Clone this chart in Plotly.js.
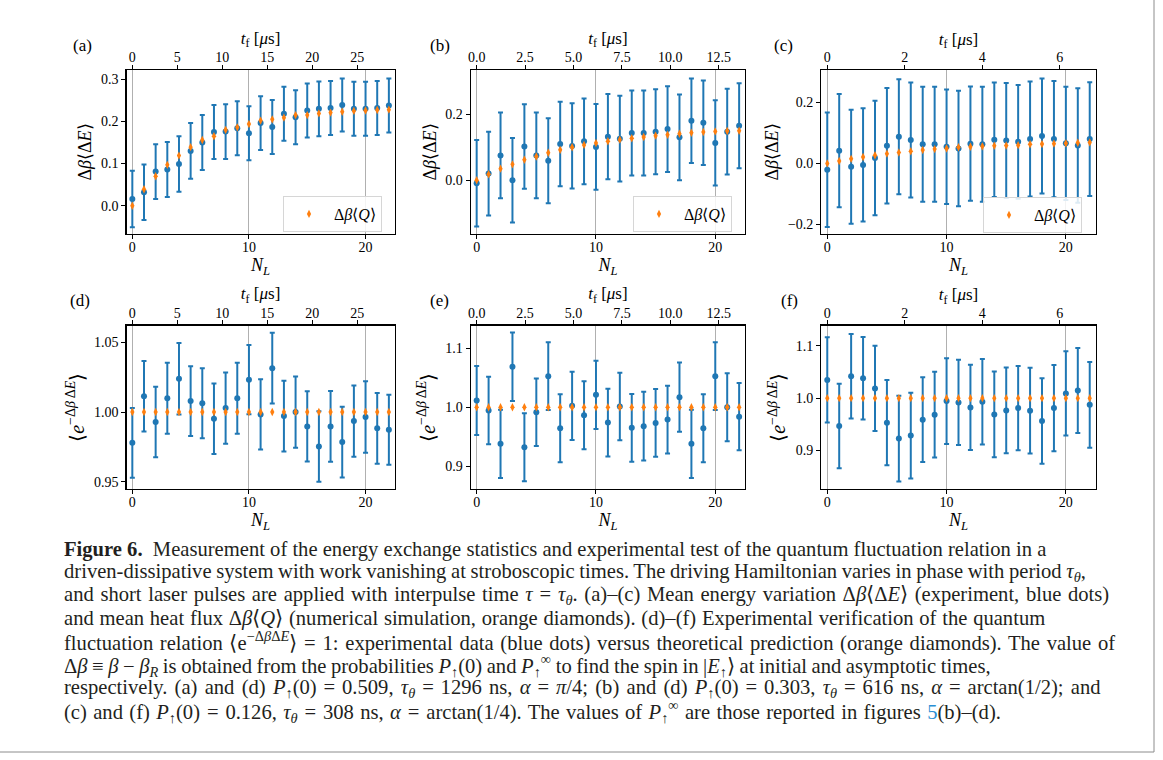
<!DOCTYPE html>
<html>
<head>
<meta charset="utf-8">
<script src="https://cdn.plot.ly/plotly-3.0.1.min.js"></script>
<style>
html,body{margin:0;padding:0;background:#fff;}
#chart{width:1163px;height:760px;}
</style>
</head>
<body>
<div id="chart"></div>
<script>
// ---------------- data ----------------
const NL = [0,1,2,3,4,5,6,7,8,9,10,11,12,13,14,15,16,17,18,19,20,21,22];

// (a) P(0)=0.509, tau=1296 ns
const blueA = [0.016,0.032,0.081,0.086,0.099,0.130,0.150,0.175,0.176,0.184,0.172,0.196,0.187,0.218,0.210,0.226,0.230,0.232,0.239,0.230,0.230,0.232,0.238];
const errA  = [0.067,0.066,0.065,0.065,0.066,0.066,0.065,0.064,0.065,0.064,0.064,0.064,0.064,0.064,0.064,0.064,0.065,0.064,0.063,0.064,0.064,0.064,0.064];
const heatA = [0.000,0.039,0.070,0.097,0.119,0.139,0.156,0.165,0.180,0.186,0.194,0.202,0.205,0.209,0.215,0.215,0.219,0.221,0.223,0.225,0.226,0.227,0.228];

// (b) P(0)=0.303, tau=616 ns
const blueB = [-0.009,0.020,0.075,0.000,0.102,0.075,0.059,0.110,0.104,0.118,0.101,0.132,0.126,0.143,0.143,0.147,0.155,0.130,0.180,0.174,0.113,0.147,0.165];
const errB  = [0.131,0.127,0.130,0.128,0.128,0.130,0.129,0.128,0.129,0.130,0.130,0.129,0.130,0.129,0.129,0.129,0.130,0.130,0.128,0.128,0.129,0.130,0.129];
const heatB = [0.000,0.018,0.035,0.048,0.062,0.072,0.083,0.092,0.100,0.107,0.113,0.118,0.123,0.127,0.131,0.135,0.138,0.141,0.144,0.146,0.148,0.149,0.150];

// (c) P(0)=0.126, tau=308 ns
const blueC = [-0.021,0.042,-0.011,-0.005,0.018,0.058,0.088,0.077,0.063,0.063,0.055,0.049,0.065,0.063,0.078,0.075,0.071,0.080,0.090,0.080,0.066,0.059,0.080];
const errC  = [0.188,0.186,0.187,0.186,0.188,0.190,0.189,0.189,0.189,0.189,0.188,0.190,0.188,0.189,0.188,0.189,0.187,0.189,0.189,0.191,0.186,0.188,0.187];
const heatC = [0.000,0.008,0.015,0.021,0.027,0.032,0.036,0.040,0.044,0.047,0.049,0.053,0.055,0.056,0.058,0.059,0.060,0.063,0.064,0.065,0.066,0.068,0.069];

// (d)-(f) fluctuation relation
const blueD = [0.9779,1.0113,0.9928,1.0099,1.0240,1.0079,1.0063,0.9952,1.0029,1.0099,1.0233,0.9983,1.0315,0.9971,1.0000,0.9897,0.9752,0.9897,0.9784,0.9935,0.9964,0.9883,0.9873];
const errD  = [0.0251,0.0253,0.0253,0.0255,0.0257,0.0251,0.0251,0.0254,0.0256,0.0255,0.0249,0.0253,0.0254,0.0254,0.0256,0.0253,0.0253,0.0255,0.0254,0.0256,0.0257,0.0254,0.0252];
const blueE = [1.0113,0.9944,0.9379,1.0684,0.9322,0.9915,1.0525,0.9644,1.0023,0.9864,1.0209,0.9740,1.0011,0.9650,0.9678,0.9734,0.9790,1.0170,0.9379,0.9644,1.0525,1.0000,0.9840];
const errE  = [0.0585,0.0570,0.0576,0.0579,0.0574,0.0571,0.0574,0.0576,0.0577,0.0576,0.0577,0.0573,0.0570,0.0574,0.0582,0.0573,0.0573,0.0585,0.0578,0.0575,0.0573,0.0576,0.0570];
const blueF = [1.0348,0.9468,1.0418,1.0380,1.0184,0.9532,0.9228,0.9285,0.9589,0.9684,0.9943,0.9918,0.9823,0.9930,0.9690,0.9766,0.9810,0.9760,0.9563,0.9810,1.0089,1.0146,0.9873];
const errF  = [0.0813,0.0804,0.0807,0.0788,0.0813,0.0813,0.0817,0.0817,0.0807,0.0817,0.0816,0.0814,0.0814,0.0815,0.0817,0.0817,0.0803,0.0817,0.0814,0.0824,0.0803,0.0810,0.0817];
const theoryDEF = [1,1,1,1,1,1,1,1,1,1,1,1,1,1,1,1,1,1,1,1,1,1,1];

// pulse periods (microseconds) for the top t_f axes
const tauA = 1.296, tauB = 0.616, tauC = 0.308;

// tick labels
const bottomTicks = [0,10,20];
const topTicksA = [0,5,10,15,20,25];
const topTicksB = [0,2.5,5,7.5,10,12.5];
const topTicksC = [0,2,4,6];
const yTicksA = [0,0.1,0.2,0.3];
const yTicksB = [0,0.2];
const yTicksC = [-0.2,0,0.2];
const yTicksD = [0.95,1.00,1.05];
const yTicksE = [0.9,1.0,1.1];
const yTicksF = [0.9,1.0,1.1];
const panelLabels = ['(a)','(b)','(c)','(d)','(e)','(f)'];

// ---------------- styling ----------------
const W = 1163, H = 760;
const FONT = 'Liberation Serif, Times New Roman, serif';
const BLUE = '#1f77b4', ORANGE = '#ff7f0e';
const px = v => v / W;
const py = v => 1 - v / H;

const colDom = [[126.5,394.7],[470.7,745.1],[821.3,1095.7]];
const rowDom = [[70,234],[325.5,489]];
const xr = [-0.5, 22.5];

const YT1 = 'Δ<i>β</i>⟨Δ<i>E</i>⟩';
const YT2 = '⟨<i>e</i><sup>−Δ<i>β</i> Δ<i>E</i></sup>⟩';
const panels = [
  {blue: blueA, err: errA, orange: heatA, yr:[-0.067,0.322], yt: yTicksA, yf:'.1f', tau: tauA, tt: topTicksA, tf:'d', ytitle: YT1, ys: 18, leg:'legend'},
  {blue: blueB, err: errB, orange: heatB, yr:[-0.163,0.334], yt: yTicksB, yf:'.1f', tau: tauB, tt: topTicksB, tf:'.1f', ytitle: YT1, ys: 18, leg:'legend2'},
  {blue: blueC, err: errC, orange: heatC, yr:[-0.232,0.307], yt: yTicksC, yf:'.1f', tau: tauC, tt: topTicksC, tf:'d', ytitle: YT1, ys: 18, leg:'legend3'},
  {blue: blueD, err: errD, orange: theoryDEF, yr:[0.9447,1.0622], yt: yTicksD, yf:'.2f', tau: tauA, tt: topTicksA, tf:'d', ytitle: YT2, ys: 20, leg:null},
  {blue: blueE, err: errE, orange: theoryDEF, yr:[0.8615,1.1383], yt: yTicksE, yf:'.1f', tau: tauB, tt: topTicksB, tf:'.1f', ytitle: YT2, ys: 20, leg:null},
  {blue: blueF, err: errF, orange: theoryDEF, yr:[0.8267,1.1385], yt: yTicksF, yf:'.1f', tau: tauC, tt: topTicksC, tf:'d', ytitle: YT2, ys: 20, leg:null}
];

const traces = [];
const layout = {
  width: W, height: H,
  margin: {l:0, r:0, t:0, b:0},
  paper_bgcolor: '#ffffff',
  plot_bgcolor: '#ffffff',
  font: {family: FONT, size: 14, color: '#000'},
  annotations: [],
  shapes: []
};

const axName = (p, n) => n === 1 ? p + 'axis' : p + 'axis' + n;
const axId = (p, n) => n === 1 ? p : p + n;

panels.forEach((P, i) => {
  const col = i % 3, row = Math.floor(i / 3);
  const xb = 2 * i + 1, xt = 2 * i + 2, yn = i + 1;
  const dx = [px(colDom[col][0]), px(colDom[col][1])];
  const dy = [py(rowDom[row][1]), py(rowDom[row][0])];

  layout[axName('x', xb)] = {
    domain: dx, anchor: axId('y', yn), range: xr, side: 'bottom',
    tickmode: 'array', tickvals: bottomTicks, ticks: 'outside', ticklen: 4, tickwidth: 1, tickcolor: '#000',
    ticklabelstandoff: -4,
    showline: true, linecolor: '#000', linewidth: 1.2, mirror: true,
    showgrid: true, gridcolor: '#b0b0b0', gridwidth: 1, zeroline: false,
    tickfont: {family: FONT, size: 14},
    title: {text: '<i>N</i><sub><i>L</i></sub>', font: {family: FONT, size: 18}, standoff: 0}
  };
  layout[axName('x', xt)] = {
    overlaying: axId('x', xb), anchor: axId('y', yn), side: 'top',
    range: [xr[0] * P.tau, xr[1] * P.tau],
    tickmode: 'array', tickvals: P.tt, tickformat: P.tf, ticks: 'outside', ticklen: 4, tickwidth: 1, tickcolor: '#000',
    ticklabelstandoff: -3,
    showline: true, linecolor: '#000', linewidth: 1.2, showgrid: false, zeroline: false,
    tickfont: {family: FONT, size: 14},
    title: {text: '<i>t</i><sub>f</sub> [<i>μ</i>s]', font: {family: FONT, size: 17}, standoff: 0}
  };
  layout[axName('y', yn)] = {
    domain: dy, anchor: axId('x', xb), range: P.yr,
    tickmode: 'array', tickvals: P.yt, tickformat: P.yf, ticks: 'outside', ticklen: 4, tickwidth: 1, tickcolor: '#000',
    showline: true, linecolor: '#000', linewidth: 1.2, mirror: true,
    showgrid: false, zeroline: false,
    tickfont: {family: FONT, size: 14},
    title: {text: P.ytitle, font: {family: FONT, size: P.ys}, standoff: 4}
  };

  traces.push({
    type: 'scatter', mode: 'markers', x: NL, y: P.blue,
    xaxis: axId('x', xb), yaxis: axId('y', yn),
    marker: {color: BLUE, size: 6},
    error_y: {type: 'data', array: P.err, visible: true, color: BLUE, thickness: 2, width: 2.5},
    showlegend: false, hoverinfo: 'skip'
  });
  const ot = {
    type: 'scatter', mode: 'markers', x: NL, y: P.orange,
    xaxis: axId('x', xb), yaxis: axId('y', yn),
    marker: {color: ORANGE, size: 6, symbol: 'diamond-tall'},
    name: 'Δ<i>β</i>⟨<i>Q</i>⟩',
    showlegend: !!P.leg, hoverinfo: 'skip'
  };
  if (P.leg) ot.legend = P.leg;
  traces.push(ot);
  // trace on the top time axis (keeps it drawn)
  traces.push({type: 'scatter', mode: 'markers', x: [], y: [], xaxis: axId('x', xt), yaxis: axId('y', yn), showlegend: false, hoverinfo: 'skip'});
});

// legends (one per top panel)
const legBase = {xanchor: 'left', yanchor: 'top', bgcolor: 'rgba(255,255,255,0.85)', bordercolor: '#d6d6d6', borderwidth: 1,
                 font: {family: FONT, size: 16}, itemwidth: 40, tracegroupgap: 0};
layout.legend  = Object.assign({}, legBase, {x: px(283), y: py(196)});
layout.legend2 = Object.assign({}, legBase, {x: px(633), y: py(196)});
layout.legend3 = Object.assign({}, legBase, {x: px(983), y: py(197)});

// panel labels
const labelPos = [[82,45],[440,45],[784,45],[80,300],[439,300],[789,300]];
panelLabels.forEach((t, i) => {
  layout.annotations.push({text: t, xref: 'paper', yref: 'paper', x: px(labelPos[i][0]), y: py(labelPos[i][1]),
    xanchor: 'center', yanchor: 'middle', showarrow: false, font: {family: FONT, size: 17}});
});

// caption
const EQ = '\u2004=\u2004';
const caption = [
  '<b>Figure 6.</b>  Measurement of the energy exchange statistics and experimental test of the quantum fluctuation relation in a',
  'driven-dissipative system with work vanishing at stroboscopic times. The driving Hamiltonian varies in phase with period <i>τ</i><sub><i>θ</i></sub>,',
  'and short laser pulses are applied with interpulse time <i>τ</i>' + EQ + '<i>τ</i><sub><i>θ</i></sub>. (a)–(c) Mean energy variation Δ<i>β</i>⟨Δ<i>E</i>⟩ (experiment, blue dots)',
  'and mean heat flux Δ<i>β</i>⟨<i>Q</i>⟩ (numerical simulation, orange diamonds). (d)–(f) Experimental verification of the quantum',
  'fluctuation relation ⟨e<sup>−Δ<i>β</i>Δ<i>E</i></sup>⟩' + EQ + '1: experimental data (blue dots) versus theoretical prediction (orange diamonds). The value of',
  'Δ<i>β</i> ≡ <i>β</i> − <i>β</i><sub><i>R</i></sub> is obtained from the probabilities <i>P</i><sub>↑</sub>(0) and <i>P</i><sub>↑</sub><sup>∞</sup> to find the spin in |<i>E</i><sub>↑</sub>⟩ at initial and asymptotic times,',
  'respectively. (a) and (d) <i>P</i><sub>↑</sub>(0)' + EQ + '0.509, <i>τ</i><sub><i>θ</i></sub>' + EQ + '1296 ns, <i>α</i>' + EQ + '<i>π</i>/4; (b) and (d) <i>P</i><sub>↑</sub>(0)' + EQ + '0.303, <i>τ</i><sub><i>θ</i></sub>' + EQ + '616 ns, <i>α</i>' + EQ + 'arctan(1/2); and',
  '(c) and (f) <i>P</i><sub>↑</sub>(0)' + EQ + '0.126, <i>τ</i><sub><i>θ</i></sub>' + EQ + '308 ns, <i>α</i>' + EQ + 'arctan(1/4). The values of <i>P</i><sub>↑</sub><sup>∞</sup> are those reported in figures <span style="color:#2a8fd4">5</span>(b)–(d).'
];
const wordSpacing = [0, -0.5, 1.5, 0.6, 1.5, -0.6, 2.1, 1.2];
caption.forEach((t, i) => {
  layout.annotations.push({text: '<span style="word-spacing:' + wordSpacing[i] + 'px">' + t + '</span>',
    xref: 'paper', yref: 'paper', x: px(62), y: py(549 + i * 23.2),
    xanchor: 'left', yanchor: 'middle', align: 'left', showarrow: false,
    font: {family: FONT, size: 20.6, color: '#231f20'}});
});

// figure frame (right and bottom edges)
layout.shapes.push({type: 'line', xref: 'paper', yref: 'paper', x0: px(1154), x1: px(1154), y0: py(0), y1: py(752), line: {color: '#8c8c8c', width: 1}});
layout.shapes.push({type: 'line', xref: 'paper', yref: 'paper', x0: 0, x1: px(1154), y0: py(752), y1: py(752), line: {color: '#8c8c8c', width: 1}});

Plotly.newPlot('chart', traces, layout, {staticPlot: true, displayModeBar: false});
</script>
</body>
</html>
